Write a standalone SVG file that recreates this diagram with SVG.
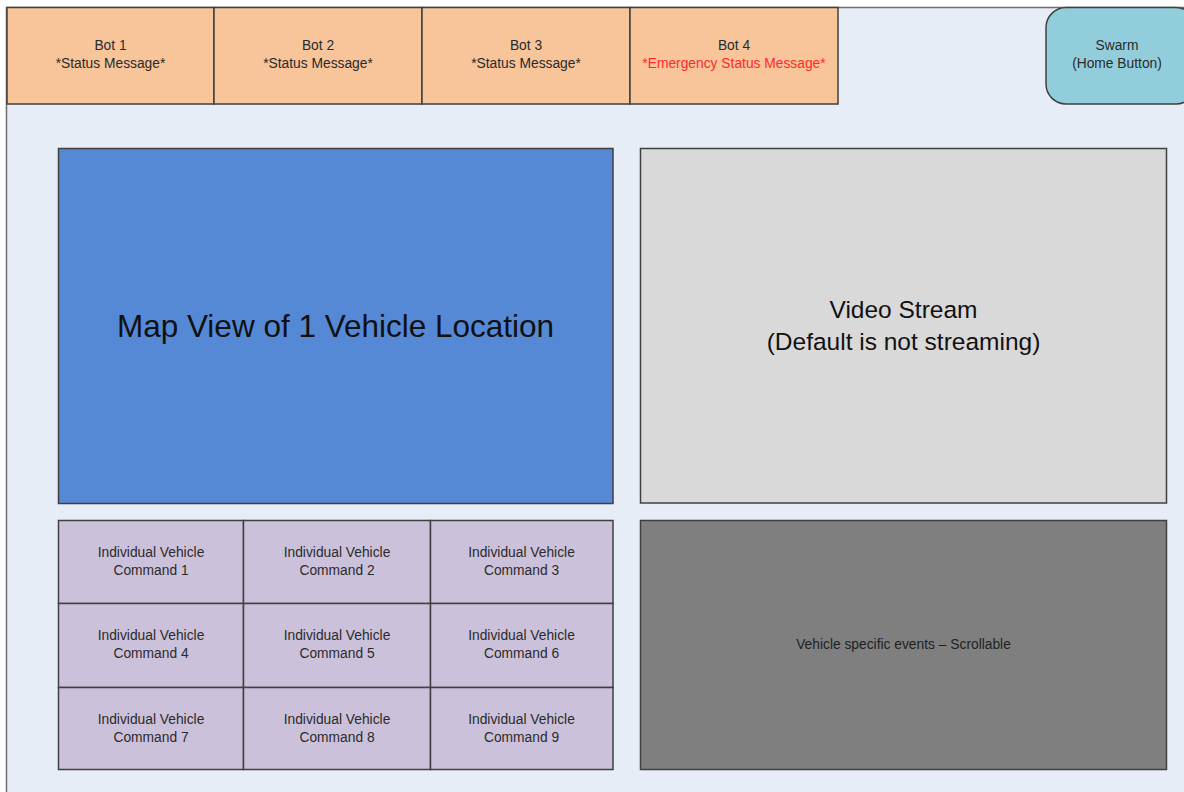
<svg xmlns="http://www.w3.org/2000/svg" width="1184" height="792" viewBox="0 0 1184 792">
  <style>
    .lbl { font-family: "Liberation Sans", Arial, sans-serif; fill: #2b2b2b; text-anchor: middle; }
    .sm { font-size: 13.8px; }
    .box { stroke: #404040; stroke-width: 1.5; }
    .bot { fill: #f8c49a; }
    .cmd { fill: #ccc1da; }
  </style>

  <!-- page and frame -->
  <rect x="0" y="0" width="1184" height="792" fill="#ffffff"/>
  <rect x="6.5" y="7.5" width="1190" height="800" fill="#e6edf7" stroke="#6f6f6f" stroke-width="1.5"/>

  <!-- status bar -->
  <g id="bot1">
    <rect class="box bot" x="7" y="7.5" width="207" height="96.5"/>
    <text class="lbl sm" x="110.5" y="50">Bot 1</text>
    <text class="lbl sm" x="110.5" y="68">*Status Message*</text>
  </g>
  <g id="bot2">
    <rect class="box bot" x="214" y="7.5" width="208" height="96.5"/>
    <text class="lbl sm" x="318" y="50">Bot 2</text>
    <text class="lbl sm" x="318" y="68">*Status Message*</text>
  </g>
  <g id="bot3">
    <rect class="box bot" x="422" y="7.5" width="208" height="96.5"/>
    <text class="lbl sm" x="526" y="50">Bot 3</text>
    <text class="lbl sm" x="526" y="68">*Status Message*</text>
  </g>
  <g id="bot4">
    <rect class="box bot" x="630" y="7.5" width="208" height="96.5"/>
    <text class="lbl sm" x="734" y="50">Bot 4</text>
    <text class="lbl sm" x="734" y="68" style="fill:#ff2a2a">*Emergency Status Message*</text>
  </g>

  <!-- home button -->
  <g id="swarm">
    <rect class="box" x="1046" y="7.5" width="150" height="96.5" rx="20" ry="20" fill="#92cddc"/>
    <text class="lbl sm" x="1117" y="50">Swarm</text>
    <text class="lbl sm" x="1117" y="68">(Home Button)</text>
  </g>

  <!-- map -->
  <g id="map">
    <rect class="box" x="58.5" y="148.5" width="554.5" height="355" fill="#5589d5"/>
    <text class="lbl" x="335.5" y="337" font-size="31.5" style="fill:#111">Map View of 1 Vehicle Location</text>
  </g>

  <!-- video -->
  <g id="video">
    <rect class="box" x="640.5" y="148.5" width="526" height="354.5" fill="#d9d9d9"/>
    <text class="lbl" x="903.5" y="318" font-size="24.5" style="fill:#111">Video Stream</text>
    <text class="lbl" x="903.5" y="350" font-size="24.5" style="fill:#111">(Default is not streaming)</text>
  </g>

  <!-- command grid -->
  <g id="cmd1">
    <rect class="box cmd" x="58.5" y="520.5" width="185" height="83"/>
    <text class="lbl sm" x="151" y="557">Individual Vehicle</text>
    <text class="lbl sm" x="151" y="575">Command 1</text>
  </g>
  <g id="cmd2">
    <rect class="box cmd" x="243.5" y="520.5" width="187" height="83"/>
    <text class="lbl sm" x="337" y="557">Individual Vehicle</text>
    <text class="lbl sm" x="337" y="575">Command 2</text>
  </g>
  <g id="cmd3">
    <rect class="box cmd" x="430.5" y="520.5" width="182.5" height="83"/>
    <text class="lbl sm" x="521.5" y="557">Individual Vehicle</text>
    <text class="lbl sm" x="521.5" y="575">Command 3</text>
  </g>
  <g id="cmd4">
    <rect class="box cmd" x="58.5" y="603.5" width="185" height="84"/>
    <text class="lbl sm" x="151" y="640">Individual Vehicle</text>
    <text class="lbl sm" x="151" y="658">Command 4</text>
  </g>
  <g id="cmd5">
    <rect class="box cmd" x="243.5" y="603.5" width="187" height="84"/>
    <text class="lbl sm" x="337" y="640">Individual Vehicle</text>
    <text class="lbl sm" x="337" y="658">Command 5</text>
  </g>
  <g id="cmd6">
    <rect class="box cmd" x="430.5" y="603.5" width="182.5" height="84"/>
    <text class="lbl sm" x="521.5" y="640">Individual Vehicle</text>
    <text class="lbl sm" x="521.5" y="658">Command 6</text>
  </g>
  <g id="cmd7">
    <rect class="box cmd" x="58.5" y="687.5" width="185" height="82"/>
    <text class="lbl sm" x="151" y="724">Individual Vehicle</text>
    <text class="lbl sm" x="151" y="742">Command 7</text>
  </g>
  <g id="cmd8">
    <rect class="box cmd" x="243.5" y="687.5" width="187" height="82"/>
    <text class="lbl sm" x="337" y="724">Individual Vehicle</text>
    <text class="lbl sm" x="337" y="742">Command 8</text>
  </g>
  <g id="cmd9">
    <rect class="box cmd" x="430.5" y="687.5" width="182.5" height="82"/>
    <text class="lbl sm" x="521.5" y="724">Individual Vehicle</text>
    <text class="lbl sm" x="521.5" y="742">Command 9</text>
  </g>

  <!-- event log -->
  <g id="events">
    <rect class="box" x="640.5" y="520.5" width="526" height="249" fill="#7f7f7f"/>
    <text class="lbl sm" x="903.5" y="649" style="fill:#1f1f1f">Vehicle specific events – Scrollable</text>
  </g>

  <g id="connectors"/>
</svg>
